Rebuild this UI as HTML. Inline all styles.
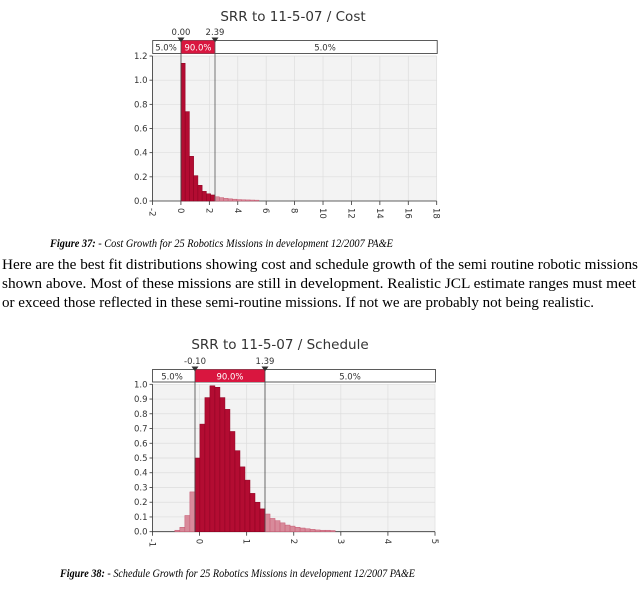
<!DOCTYPE html>
<html><head><meta charset="utf-8"><style>
html,body{margin:0;padding:0;background:#fff;width:644px;height:590px;overflow:hidden}
svg{display:block}
.t{font-family:"DejaVu Sans",sans-serif;fill:#333}
.s{font-family:"Liberation Serif",serif;fill:#000}
</style></head><body>
<svg id="s" width="644" height="590" xmlns="http://www.w3.org/2000/svg">
<!-- Chart 1 -->
<text class="t" x="293" y="21" font-size="13.5" text-anchor="middle">SRR to 11-5-07 / Cost</text>
<rect x="152.5" y="56" width="284.2" height="145" fill="#f3f3f3"/>
<g id="g1"></g>
<rect x="152.7" y="40.5" width="284.5" height="13" fill="#fff" stroke="#333" stroke-width="0.8"/>
<rect x="181" y="40.5" width="34" height="13" fill="#d9163f"/>
<text class="t" x="166" y="50.5" font-size="8.5" text-anchor="middle">5.0%</text>
<text class="t" x="198" y="50.5" font-size="8.5" text-anchor="middle" style="fill:#fff">90.0%</text>
<text class="t" x="325" y="50.5" font-size="8.5" text-anchor="middle">5.0%</text>
<text class="t" x="181" y="35" font-size="8.5" text-anchor="middle">0.00</text>
<text class="t" x="215" y="35" font-size="8.5" text-anchor="middle">2.39</text>
<path d="M177.5,37.5h7l-3.5,5z M211.5,37.5h7l-3.5,5z" fill="#333"/>
<line x1="181" y1="41" x2="181" y2="201" stroke="#444" stroke-width="0.8"/>
<line x1="215" y1="41" x2="215" y2="201" stroke="#555" stroke-width="0.8"/>
<!-- Text -->
<text class="s" x="50" y="247" font-size="11.5" font-style="italic" textLength="343" lengthAdjust="spacingAndGlyphs"><tspan font-weight="bold">Figure 37:</tspan> - Cost Growth for 25 Robotics Missions in development 12/2007 PA&amp;E</text>
<text class="s" x="2" y="269" font-size="15" textLength="636" lengthAdjust="spacingAndGlyphs">Here are the best fit distributions showing cost and schedule growth of the semi routine robotic missions</text>
<text class="s" x="2" y="288" font-size="15" textLength="634" lengthAdjust="spacingAndGlyphs">shown above.  Most of these missions are still in development.  Realistic JCL estimate ranges must meet</text>
<text class="s" x="2" y="307" font-size="15" textLength="592" lengthAdjust="spacingAndGlyphs">or exceed those reflected in these semi-routine missions.  If not we are probably not being realistic.</text>
<!-- Chart 2 -->
<text class="t" x="280" y="349" font-size="13.5" text-anchor="middle">SRR to 11-5-07 / Schedule</text>
<rect x="152.5" y="384.3" width="282.5" height="147.4" fill="#f3f3f3"/>
<g id="g2"></g>
<rect x="152.5" y="369.5" width="283" height="12.5" fill="#fff" stroke="#333" stroke-width="0.8"/>
<rect x="195" y="369.5" width="70" height="12.5" fill="#d9163f"/>
<text class="t" x="172" y="379.5" font-size="8.5" text-anchor="middle">5.0%</text>
<text class="t" x="230" y="379.5" font-size="8.5" text-anchor="middle" style="fill:#fff">90.0%</text>
<text class="t" x="350" y="379.5" font-size="8.5" text-anchor="middle">5.0%</text>
<text class="t" x="195" y="364" font-size="8.5" text-anchor="middle">-0.10</text>
<text class="t" x="265" y="364" font-size="8.5" text-anchor="middle">1.39</text>
<path d="M191.5,366.5h7l-3.5,5z M261.5,366.5h7l-3.5,5z" fill="#333"/>
<line x1="195" y1="370" x2="195" y2="531.7" stroke="#444" stroke-width="0.8"/>
<line x1="265" y1="370" x2="265" y2="531.7" stroke="#444" stroke-width="0.8"/>
<text class="s" x="60" y="577" font-size="11.5" font-style="italic" textLength="355" lengthAdjust="spacingAndGlyphs"><tspan font-weight="bold">Figure 38:</tspan>  - Schedule Growth for 25 Robotics Missions in development 12/2007 PA&amp;E</text>
</svg>
<script>
var NS="http://www.w3.org/2000/svg";
function el(p,n,a,txt){var e=document.createElementNS(NS,n);for(var k in a)e.setAttribute(k,a[k]);if(txt!=null)e.textContent=txt;p.appendChild(e);return e;}
function chart(g,x0,x1,xmin,xmax,xstep,y0,y1,ymax,ystep,ydec,bars){
  var sx=function(v){return x0+(v-xmin)*(x1-x0)/(xmax-xmin)};
  var sy=function(v){return y0-v*(y0-y1)/ymax};
  for(var v=xmin;v<=xmax+1e-9;v+=xstep){var x=sx(v);
    el(g,"line",{x1:x,x2:x,y1:y1,y2:y0,stroke:"#ddd","stroke-width":0.7});
    el(g,"line",{x1:x,x2:x,y1:y0,y2:y0+4,stroke:"#333","stroke-width":0.8});
    el(g,"text",{class:"t",x:0,y:0,"font-size":8.5,transform:"translate("+(x-3)+","+(y0+7)+") rotate(90)"},String(Math.round(v)));}
  for(var v=0;v<=ymax+1e-9;v+=ystep){var y=sy(v);
    el(g,"line",{x1:x0,x2:x1,y1:y,y2:y,stroke:"#ddd","stroke-width":0.7});
    el(g,"line",{x1:x0-3,x2:x0,y1:y,y2:y,stroke:"#333","stroke-width":0.8});
    el(g,"text",{class:"t",x:x0-5,y:y+3,"font-size":8.5,"text-anchor":"end"},v.toFixed(ydec));}
  el(g,"line",{x1:x0,x2:x0,y1:y1,y2:y0,stroke:"#333","stroke-width":0.8});
  el(g,"line",{x1:x0,x2:x1,y1:y0,y2:y0,stroke:"#333","stroke-width":0.8});
  bars.forEach(function(b){var xa=sx(b[0]),xb=sx(b[1]),y=sy(b[2]);
    el(g,"rect",{x:xa,y:y,width:xb-xa,height:y0-y,fill:b[3]?"#b30c32":"#d88a9a",stroke:b[3]?"#8c0020":"#c65a72","stroke-width":0.5});});
}
var b1=[],h1=[1.14,0.74,0.37,0.21,0.13,0.08,0.06,0.05],w1=2.39/8;
h1.forEach(function(h,i){b1.push([i*w1,(i+1)*w1,h,1]);});
var l1=[0.035,0.028,0.022,0.018,0.015,0.012,0.01,0.009,0.008,0.007];
l1.forEach(function(h,i){b1.push([2.39+i*0.31,2.39+(i+1)*0.31,h,0]);});
chart(document.getElementById("g1"),152.5,436.7,-2,18,2,201,56,1.2,0.2,1,b1);
var b2=[],w2=1.49/14;
[0.01,0.03,0.11,0.27].forEach(function(h,i){b2.push([-0.1-(4-i)*w2,-0.1-(3-i)*w2,h,0]);});
[0.5,0.73,0.91,0.99,0.98,0.91,0.83,0.68,0.55,0.44,0.35,0.26,0.20,0.155].forEach(function(h,i){b2.push([-0.1+i*w2,-0.1+(i+1)*w2,h,1]);});
[0.12,0.09,0.075,0.06,0.045,0.038,0.03,0.025,0.02,0.016,0.012,0.01,0.01,0.008].forEach(function(h,i){b2.push([1.39+i*w2,1.39+(i+1)*w2,h,0]);});
chart(document.getElementById("g2"),152.5,435,-1,5,1,531.7,384.3,1.0,0.1,1,b2);
</script>
</body></html>
